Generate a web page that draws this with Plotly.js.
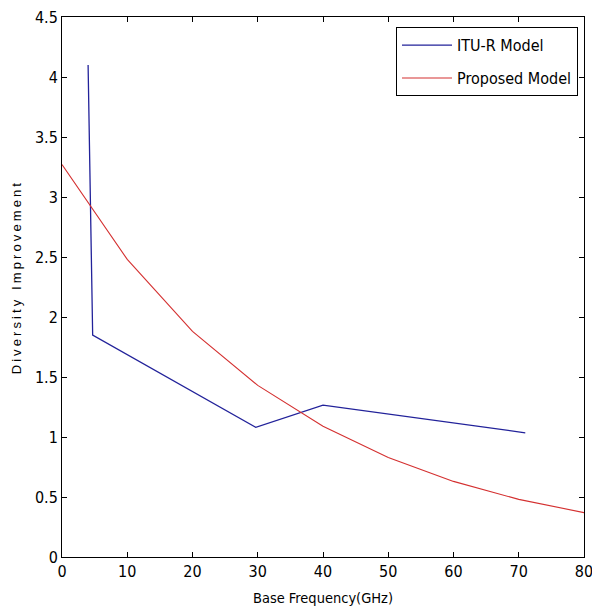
<!DOCTYPE html>
<html>
<head>
<meta charset="utf-8">
<script src="https://cdn.plot.ly/plotly-3.0.1.min.js"></script>
<style>
html,body{margin:0;padding:0;background:#fff;}
#chart{width:592px;height:610px;}
</style>
</head>
<body>
<div id="chart"></div>
<script>
// ITU-R Model
const ituFreq = [4.0, 4.7, 29.7, 40.0, 71.0];
const ituDI   = [4.10, 1.85, 1.08, 1.265, 1.035];
// Proposed Model
const propFreq = [0, 10, 20, 30, 40, 50, 60, 70, 80];
const propDI   = [3.27, 2.48, 1.88, 1.43, 1.09, 0.83, 0.63, 0.48, 0.37];
// Axis ticks
const xTicks = [0, 10, 20, 30, 40, 50, 60, 70, 80];
const yTicks = [0, 0.5, 1, 1.5, 2, 2.5, 3, 3.5, 4, 4.5];
const yTickText = ["0", "0.5", "1", "1.5", "2", "2.5", "3", "3.5", "4", "4.5"];

const FONT = '"DejaVu Sans Condensed", "Liberation Sans Narrow", Arial, sans-serif';

const traces = [
  {x: ituFreq, y: ituDI, type: 'scatter', mode: 'lines', name: 'ITU-R Model',
   line: {color: '#22229a', width: 1.3}, legendgroup: 'a'},
  {x: propFreq, y: propDI, type: 'scatter', mode: 'lines', name: 'Proposed Model',
   line: {color: '#d43030', width: 1.1}, legendgroup: 'b'}
];

const axisCommon = {
  showline: true, linecolor: '#000', linewidth: 1, mirror: 'allticks',
  ticks: 'inside', ticklen: 5, tickwidth: 1, tickcolor: '#000',
  showgrid: false, zeroline: false, ticklabeloverflow: 'allow',
  tickfont: {family: FONT, size: 16, color: '#000'}
};

const layout = {
  width: 592, height: 610,
  margin: {l: 62, r: 8, t: 17, b: 53},
  paper_bgcolor: '#fff', plot_bgcolor: '#fff',
  showlegend: true,
  legend: {
    x: 0.9885, xanchor: 'right', y: 0.981, yanchor: 'top',
    bordercolor: '#000', borderwidth: 1, bgcolor: '#fff',
    font: {family: FONT, size: 16, color: '#000'},
    traceorder: 'grouped', tracegroupgap: 9,
    itemwidth: 50
  },
  xaxis: Object.assign({}, axisCommon, {
    range: [0, 80], tickvals: xTicks, ticktext: xTicks.map(String),
    title: {text: 'Base Frequency(GHz)', font: {family: FONT, size: 14.5, color: '#000'}, standoff: 12}
  }),
  yaxis: Object.assign({}, axisCommon, {
    range: [0, 4.5], tickvals: yTicks, ticktext: yTickText
  }),
  annotations: [{
    text: 'Diversity Improvement', xref: 'paper', yref: 'paper',
    x: -0.0885, y: 0.5185, xanchor: 'center', yanchor: 'middle',
    textangle: -90, showarrow: false,
    font: {family: 'Liberation Sans, Arial, sans-serif', size: 13, color: '#000'}
  }]
};

Plotly.newPlot('chart', traces, layout, {displayModeBar: false, staticPlot: true}).then(function(){
  document.querySelectorAll('.annotation-text').forEach(function(t){ t.style.letterSpacing = '3.1px'; });
});
</script>
</body>
</html>
